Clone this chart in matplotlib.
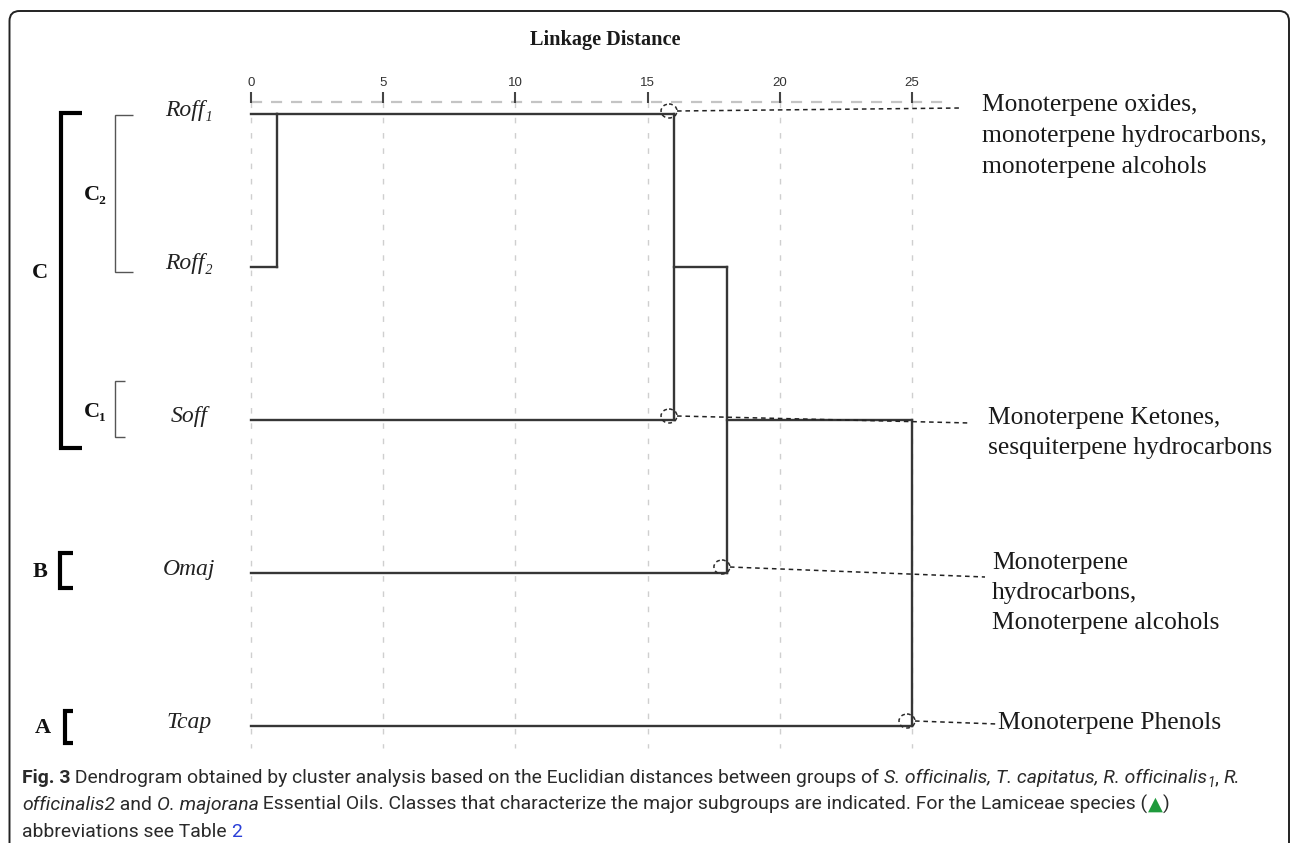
import matplotlib
matplotlib.use("Agg")
import matplotlib.pyplot as plt
import numpy as np
from matplotlib.patches import Ellipse, FancyBboxPatch
from matplotlib import font_manager

# ---------------- data ----------------
leaf_names = ["Roff", "Roff", "Soff", "Omaj", "Tcap"]
leaf_subs = ["₁", "₂", "", "", ""]
# agglomeration steps: (cluster a, cluster b, linkage distance)
# ids 0-4 are the leaves, each step creates cluster 5, 6, ...
merges = [(0, 1, 1.0), (5, 2, 16.0), (6, 3, 18.0), (7, 4, 25.0)]
x_ticks = [0, 5, 10, 15, 20, 25]
# chemical classes marking the subgroups: (text, merge step, leaf row)
class_texts = [
    "Monoterpene oxides,\nmonoterpene hydrocarbons,\nmonoterpene alcohols",
    "Monoterpene Ketones,\nsesquiterpene hydrocarbons",
    "Monoterpene\nhydrocarbons,\nMonoterpene alcohols",
    "Monoterpene Phenols",
]
class_steps = [1, 1, 2, 3]
class_rows = [0, 2, 3, 4]

# ---------------- figure ----------------
W, H = 1293, 843
fig = plt.figure(figsize=(W / 100, H / 100), dpi=100)
fig.patch.set_facecolor("white")

SERIF = ["Liberation Serif", "DejaVu Serif"]
names = {f.name for f in font_manager.fontManager.ttflist}
CAP = ["Roboto", "DejaVu Sans"] if "Roboto" in names else ["DejaVu Sans"]
TICKF = ["Liberation Sans", "DejaVu Sans"]

# pixel overlay for frame, brackets and caption
deco = fig.add_axes([0, 0, 1, 1], zorder=0)
deco.set_xlim(0, W)
deco.set_ylim(H, 0)
deco.axis("off")

# dendrogram axes: distance on x, leaf row on y
X0, PPU = 251.0, 26.44   # pixel of distance 0, pixels per unit
R0, PITCH = 114.0, 153.0  # pixel of first row, pixels per row
ax = fig.add_axes([0, 0, 1, 1], zorder=1)
ax.patch.set_alpha(0)
ax.set_xlim(-X0 / PPU, (W - X0) / PPU)
ax.set_ylim((H - R0) / PITCH, -R0 / PITCH)
ax.axis("off")


def row(py):
    return (py - R0) / PITCH


def dist(px):
    return (px - X0) / PPU


# grid, top rule and ticks
ax.vlines(x_ticks, row(102), row(748), colors="#cfcfcf", lw=1.0,
          linestyles=(0, (4, 7)), zorder=1)
ax.hlines(row(102), 0, dist(945), colors="#c4c4c4", lw=1.6,
          linestyles=(0, (5, 4)), zorder=1)
ax.vlines(x_ticks, row(92), row(103), colors="#444444", lw=1.5, zorder=2)
for t in x_ticks:
    ax.text(t, row(83), str(t), ha="center", va="center", fontsize=9.5,
            color="#333333", family=TICKF)

# dendrogram
LC, LW = "#363636", 1.7
rows = {i: i for i in range(len(leaf_names))}
start = {i: 0.0 for i in range(len(leaf_names))}
for k, (a, b, h) in enumerate(merges):
    for c in (a, b):
        ax.plot([start[c], h], [rows[c], rows[c]], color=LC, lw=LW,
                solid_capstyle="projecting", zorder=3)
    ax.plot([h, h], [rows[a], rows[b]], color=LC, lw=LW,
            solid_capstyle="projecting", zorder=3)
    new = len(leaf_names) + k
    rows[new] = int(np.floor((rows[a] + rows[b]) / 2))
    start[new] = h

# leaf labels
for i, (nm, sb) in enumerate(zip(leaf_names, leaf_subs)):
    ax.text(dist(189), i - 0.025, nm + sb, ha="center", va="center",
            fontsize=17, style="italic", family=SERIF, color="#222222")

# class annotations: dashed ring at the node, dotted leader, text
text_px = [(982, 136), (988, 433), (992, 593), (998, 723)]
lead_end = [(960, 108), (970, 423), (985, 577), (997, 724)]
ring_dy = [-3, -4, -6, -5]
for txt, st, r, (tx, ty), (lx, ly), dy in zip(class_texts, class_steps, class_rows,
                                               text_px, lead_end, ring_dy):
    h = merges[st][2]
    cx, cy = h - 5 / PPU, r + dy / PITCH
    ax.add_patch(Ellipse((cx, cy), 16 / PPU, 14 / PITCH, fill=False,
                         ec="#2a2a2a", lw=1.1, ls=(0, (2.5, 2)), zorder=4))
    ax.plot([cx + 8 / PPU, dist(lx)], [cy, row(ly)], color="#222222", lw=1.1,
            ls=(0, (3, 2.5)), zorder=4)
    ax.text(dist(tx), row(ty), txt, ha="left", va="center", fontsize=18.4,
            family=SERIF, color="#1a1a1a", linespacing=1.5)

# title
deco.text(605, 40, "Linkage Distance", ha="center", va="center", fontsize=14.6,
          fontweight="bold", family=SERIF, color="#1a1a1a")

# group brackets
def bracket(x, y0, y1, x1, lw, color):
    deco.plot([x1, x, x, x1], [y0, y0, y1, y1], color=color, lw=lw,
              solid_joinstyle="miter", solid_capstyle="butt")

bracket(61, 113, 448, 82, 3.0, "black")
bracket(115, 115, 272, 133, 1.0, "#555555")
bracket(115, 381, 437, 125, 1.0, "#555555")
bracket(60, 553, 588, 73, 3.0, "black")
bracket(65, 711, 743, 73, 3.0, "black")
for s, x, y in [("C", 40, 273), ("C₂", 95, 195), ("C₁", 95, 412),
                ("B", 40, 572), ("A", 43, 728)]:
    deco.text(x, y, s, ha="center", va="center", fontsize=16,
              fontweight="bold", family=SERIF, color="#111111")

# frame
deco.add_patch(FancyBboxPatch((9.5, 11), 1279.5, 900,
                              boxstyle="round,pad=0,rounding_size=10",
                              fill=False, ec="#222222", lw=1.4, clip_on=False))

# caption with mixed styles
renderer = fig.canvas.get_renderer()
it = {"style": "italic"}
line1 = [("Fig. 3", {"fontweight": "bold"}),
         (" Dendrogram obtained by cluster analysis based on the Euclidian distances between groups of ",),
         ("S. officinalis, T. capitatus, R. officinalis", it),
         ("1", {"style": "italic", "rel": 0.7, "dy": 4}),
         (", ",), ("R.", it)]
line2 = [("officinalis2", it), (" and ",), ("O. majorana", it),
         (" Essential Oils. Classes that characterize the major subgroups are indicated. For the Lamiceae species (",),
         ("▲", {"family": ["DejaVu Sans"], "color": "#1f9a3c"}), (")",)]
line3 = [("abbreviations see Table ",), ("2", {"color": "#2a3fd8"})]


def runs(parts, x, y, size, draw=True):
    x_start = x
    made = []
    for p in parts:
        s, kw = p[0], dict(p[1]) if len(p) > 1 else {}
        dy = kw.pop("dy", 0)
        fs = size * kw.pop("rel", 1.0)
        kw.setdefault("family", CAP)
        kw.setdefault("color", "#2a2a2a")
        t = deco.text(x, y + dy, s, ha="left", va="baseline", fontsize=fs, **kw)
        x += t.get_window_extent(renderer).width
        made.append(t)
    if not draw:
        for t in made:
            t.remove()
    return x - x_start


probe = 13.0
cap_size = probe * 1218.0 / runs(line1, 22, 783, probe, draw=False)
runs(line1, 22, 783, cap_size)
runs(line2, 22, 810, cap_size)
runs(line3, 22, 837, cap_size)

fig.savefig("out.png", dpi=100, facecolor="white")
